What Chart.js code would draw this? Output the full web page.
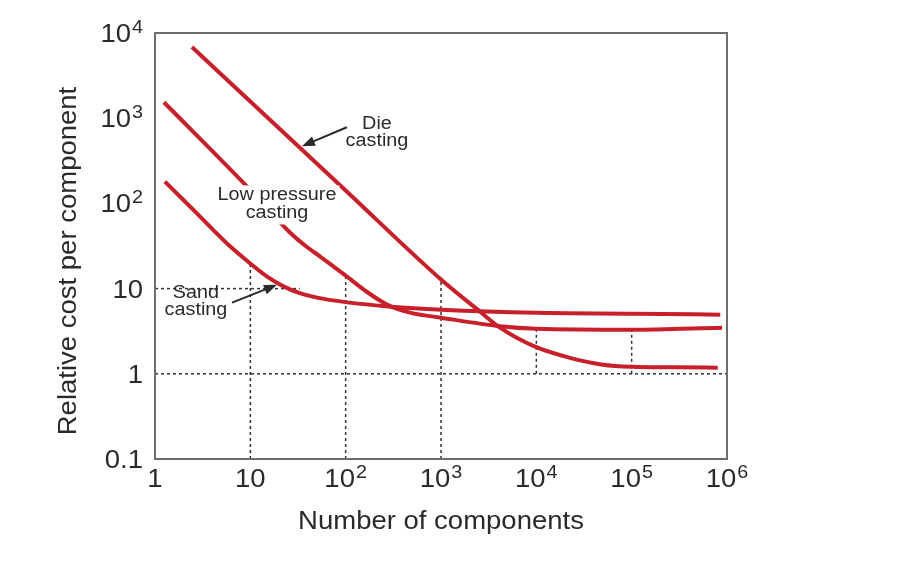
<!DOCTYPE html>
<html>
<head>
<meta charset="utf-8">
<script src="https://cdn.jsdelivr.net/npm/chart.js@4/dist/chart.umd.min.js"></script>
<style>
  html, body { margin: 0; padding: 0; background: #fff; }
  #wrap { width: 920px; height: 570px; }
</style>
</head>
<body>
<div id="wrap"><canvas id="costChart" width="920" height="570"></canvas></div>
<script>
// number of components (x) vs relative cost per component (y)
const sandX = [1.27, 2, 4, 6, 10, 15, 22, 33, 50, 100, 300, 1000, 10000, 100000, 850000];
const sandY = [180, 109, 50, 32, 19.7, 13.8, 10.7, 8.85, 7.84, 6.94, 6.14, 5.66, 5.2, 5.08, 4.94];

const lowX = [1.24, 3, 9.2, 26, 38, 54, 100, 160, 272, 473, 1000, 4160, 10000, 100000, 887000];
const lowY = [1540, 568, 158, 45.6, 31.6, 23.8, 14.2, 9.47, 6.48, 5.22, 4.56, 3.62, 3.38, 3.29, 3.48];

const dieX = [2.44, 10, 100, 1000, 2570, 4160, 9700, 22500, 50000, 100000, 300000, 800000];
const dieY = [6840, 1570, 142, 12.8, 5.36, 3.48, 2.08, 1.54, 1.28, 1.21, 1.19, 1.18];

// dotted guide lines, [x0, y0, x1, y1] in data units
const guides = [
  [10, 0.1, 10, 19.7],
  [100, 0.1, 100, 14.2],
  [1000, 0.1, 1000, 12.8],
  [10000, 1, 10000, 3.38],
  [100000, 1, 100000, 3.29],
  [1, 10, 33, 10],
  [1, 1, 1000000, 1]
];

const xTicks = [1, 10, 100, 1000, 10000, 100000, 1000000];
const yTicks = [0.1, 1, 10, 100, 1000, 10000];

const FONT = '"Liberation Sans", Arial, Helvetica, sans-serif';
const INK = '#2a2a2a';
const RED = '#c8202a';
const SX = 1.1;

function curve(xs, ys) {
  return xs.map((x, i) => ({ x: x, y: ys[i] }));
}

// helvetica in the figure is a bit wider than Liberation Sans, so stretch it
function wideText(ctx, text, x, y, size, align) {
  ctx.save();
  ctx.font = size + 'px ' + FONT;
  ctx.textBaseline = 'alphabetic';
  ctx.textAlign = 'left';
  const w = ctx.measureText(text).width * SX;
  let left = x;
  if (align === 'center') left = x - w / 2;
  if (align === 'right') left = x - w;
  ctx.translate(left, y);
  ctx.scale(SX, 1);
  ctx.fillText(text, 0, 0);
  ctx.restore();
  return w;
}

function tickLabel(ctx, v, x, y, align) {
  const e = Math.round(Math.log10(v));
  const base = e >= 2 ? '10' : String(v);
  const sup = e >= 2 ? String(e) : '';
  ctx.font = '25px ' + FONT;
  const bw = ctx.measureText(base).width * SX;
  ctx.font = '18px ' + FONT;
  const sw = sup ? ctx.measureText(sup).width * SX + 1 : 0;
  const total = bw + sw;
  const left = align === 'center' ? x - total / 2 : x - total;
  wideText(ctx, base, left, y, 25, 'left');
  if (sup) wideText(ctx, sup, left + bw + 1, y - 9, 18, 'left');
}

function arrow(ctx, x0, y0, x1, y1) {
  const a = Math.atan2(y1 - y0, x1 - x0);
  const L = 13, W = 5;
  ctx.beginPath();
  ctx.moveTo(x0, y0);
  ctx.lineTo(x1 - L * 0.8 * Math.cos(a), y1 - L * 0.8 * Math.sin(a));
  ctx.stroke();
  ctx.beginPath();
  ctx.moveTo(x1, y1);
  ctx.lineTo(x1 - L * Math.cos(a) + W * Math.sin(a), y1 - L * Math.sin(a) - W * Math.cos(a));
  ctx.lineTo(x1 - L * Math.cos(a) - W * Math.sin(a), y1 - L * Math.sin(a) + W * Math.cos(a));
  ctx.closePath();
  ctx.fill();
}

const textPlugin = {
  id: 'figureText',
  afterDatasetsDraw(chart) {
    const ctx = chart.ctx;
    const area = chart.chartArea;
    const xs = chart.scales.x;
    const ys = chart.scales.y;
    const px = v => xs.getPixelForValue(v);
    const py = v => ys.getPixelForValue(v);

    // frame
    ctx.save();
    ctx.strokeStyle = '#6e6e6e';
    ctx.lineWidth = 2;
    ctx.strokeRect(area.left, area.top, area.right - area.left, area.bottom - area.top);
    ctx.restore();

    ctx.save();
    ctx.fillStyle = INK;
    ctx.strokeStyle = INK;

    // tick labels
    yTicks.forEach(v => tickLabel(ctx, v, area.left - 12, py(v) + 9, 'right'));
    xTicks.forEach(v => tickLabel(ctx, v, px(v), area.bottom + 28, 'center'));

    // axis titles
    wideText(ctx, 'Number of components', (area.left + area.right) / 2, area.bottom + 70, 25, 'center');
    ctx.save();
    ctx.translate(76, 261);
    ctx.rotate(-Math.PI / 2);
    wideText(ctx, 'Relative cost per component', 0, 0, 25, 'center');
    ctx.restore();

    // die casting label
    wideText(ctx, 'Die', px(213), py(743), 18, 'center');
    wideText(ctx, 'casting', px(213), py(743) + 17, 18, 'center');
    ctx.lineWidth = 2;
    arrow(ctx, px(103), py(784), px(34.8), py(469));

    // low pressure label sits on a white patch over its curve
    const lx = px(19.05), ly = py(108.4);
    ctx.font = '18px ' + FONT;
    const w1 = ctx.measureText('Low pressure').width * SX;
    const w2 = ctx.measureText('casting').width * SX;
    ctx.fillStyle = '#fff';
    ctx.fillRect(lx - w1 / 2 - 3, ly - 15, w1 + 6, 20);
    ctx.fillRect(lx - w2 / 2 - 3, ly + 3, w2 + 6, 21);
    ctx.fillStyle = INK;
    wideText(ctx, 'Low pressure', lx, ly, 18, 'center');
    wideText(ctx, 'casting', lx, ly + 18, 18, 'center');

    // sand casting label
    wideText(ctx, 'Sand', px(2.69), py(7.84), 18, 'center');
    wideText(ctx, 'casting', px(2.69), py(7.84) + 17, 18, 'center');
    arrow(ctx, px(6.42), py(6.84), px(19.05), py(11.1));
    ctx.restore();
  }
};

const redLine = {
  borderColor: RED,
  borderWidth: 4,
  pointRadius: 0,
  showLine: true,
  cubicInterpolationMode: 'monotone',
  fill: false
};

const datasets = [
  Object.assign({ label: 'Sand casting', data: curve(sandX, sandY) }, redLine),
  Object.assign({ label: 'Low pressure casting', data: curve(lowX, lowY) }, redLine),
  Object.assign({ label: 'Die casting', data: curve(dieX, dieY) }, redLine)
];

guides.forEach(g => {
  datasets.push({
    label: 'guide',
    data: [{ x: g[0], y: g[1] }, { x: g[2], y: g[3] }],
    borderColor: '#333',
    borderWidth: 1.5,
    borderDash: [3, 3],
    pointRadius: 0,
    showLine: true,
    fill: false
  });
});

const ctx = document.getElementById('costChart').getContext('2d');
new Chart(ctx, {
  type: 'scatter',
  data: { datasets: datasets },
  plugins: [textPlugin],
  options: {
    responsive: false,
    animation: false,
    devicePixelRatio: 1,
    layout: { padding: { top: 33, right: 193, left: 0, bottom: 0 } },
    plugins: {
      legend: { display: false },
      tooltip: { enabled: false }
    },
    scales: {
      x: {
        type: 'logarithmic',
        min: 1,
        max: 1000000,
        grid: { display: false },
        border: { display: false },
        ticks: { display: false },
        afterFit(scale) { scale.height = 111; }
      },
      y: {
        type: 'logarithmic',
        min: 0.1,
        max: 10000,
        grid: { display: false },
        border: { display: false },
        ticks: { display: false },
        afterFit(scale) { scale.width = 155; }
      }
    }
  }
});
</script>
</body>
</html>
